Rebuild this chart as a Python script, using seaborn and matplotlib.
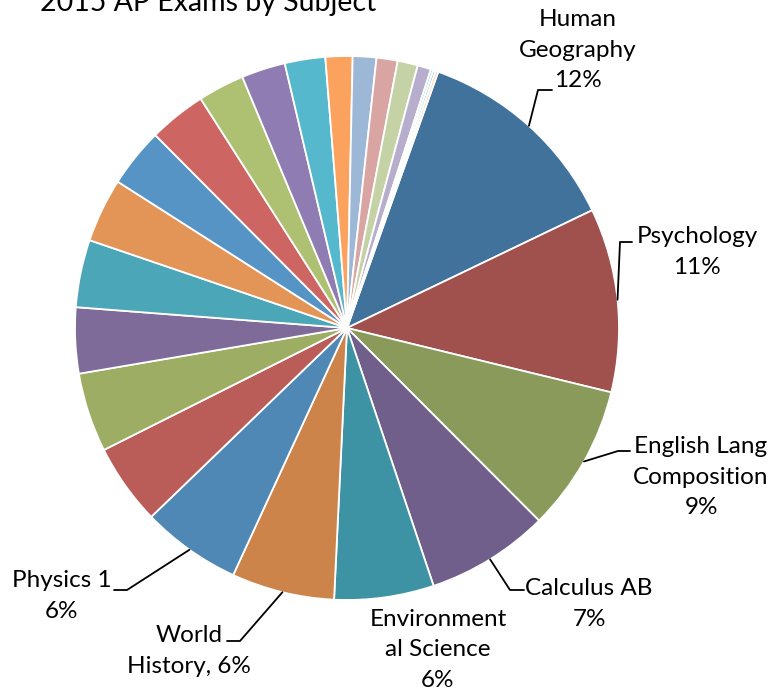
import matplotlib
matplotlib.use("Agg")
import matplotlib.pyplot as plt
import seaborn as sns
import numpy as np

# 2015 AP Exams by Subject - slices clockwise from Human Geography
subjects = ["Human\nGeography", "Psychology", "English Lang\nComposition", "Calculus AB",
            "Environment\nal Science", "World\nHistory,", "Physics 1"] + [""] * 18
shares = [12.4, 10.9, 8.7, 7.3, 5.9, 6.1, 5.9,
          4.8, 4.7, 3.9, 4.0, 3.8, 3.5, 3.4, 2.75, 2.6, 2.4,
          1.6, 1.4, 1.25, 1.2, 0.8, 0.15, 0.15, 0.15]
slice_colors = ["#41729c", "#a0504d", "#8a9a5b", "#705e8b", "#3d93a3", "#cd844a",
                "#4f87b5", "#ba5c58", "#9dad63", "#7e6b9a", "#4ba6b8", "#e39557",
                "#5794c6", "#cd6662", "#aec072", "#8f7cb2", "#56b8cd", "#fba35e",
                "#9db7d7", "#d9a5a3", "#c4d2a6", "#b7adcd", "#a5d5e2", "#8acbdb",
                "#f9c9a0"]

sns.set_style("white")
plt.rcParams["font.family"] = ["Lato", "DejaVu Sans"]

W, H = 781, 694
cx, cy, R = 347, 328, 272   # pie centre / radius in pixels


def px(x, y):
    return (x - cx) / R, (cy - y) / R


fig = plt.figure(figsize=(W / 100, H / 100), dpi=100)
ax = fig.add_axes([0, 0, 1, 1])
wedges, _ = ax.pie(shares, colors=sns.color_palette(slice_colors), startangle=70.4,
                   counterclock=False, radius=1,
                   wedgeprops=dict(edgecolor="white", linewidth=1.3))
ax.set_xlim(-cx / R, (W - cx) / R)
ax.set_ylim(-(H - cy) / R, cy / R)
ax.set_aspect("auto")
ax.axis("off")

total = sum(shares)
# label placement: text centre (px), leader elbow points (px)
label_pos = [(578, 50), (697, 252), (701, 477), (589, 604), (438, 650), (189, 651), (62, 596)]
leaders = [[(538, 90), (552, 90)], [(620, 242), (632, 242)], [(618, 451), (630, 451)],
           [(510, 590), (524, 590)], [], [(240, 641), (227, 641)], [(127, 590), (114, 590)]]

for i, name in enumerate(subjects[:7]):
    w = wedges[i]
    pct = "{:.0f}%".format(shares[i] / total * 100)
    if name.endswith(","):
        txt = name + " " + pct
    else:
        txt = name + "\n" + pct
    tx, ty = px(*label_pos[i])
    ax.text(tx, ty, txt, ha="center", va="center", fontsize=17.5, linespacing=1.55,
            color="black")
    if leaders[i]:
        mid = np.deg2rad((w.theta1 + w.theta2) / 2)
        pts = [(np.cos(mid), np.sin(mid))] + [px(*p) for p in leaders[i]]
        xs, ys = zip(*pts)
        ax.plot(xs, ys, color="black", lw=1.3)

fig.text(40 / W, 1 - 11 / H, "2015 AP Exams by Subject", ha="left", va="baseline",
         fontsize=20.5, color="black")

fig.savefig("out.png", dpi=100)
